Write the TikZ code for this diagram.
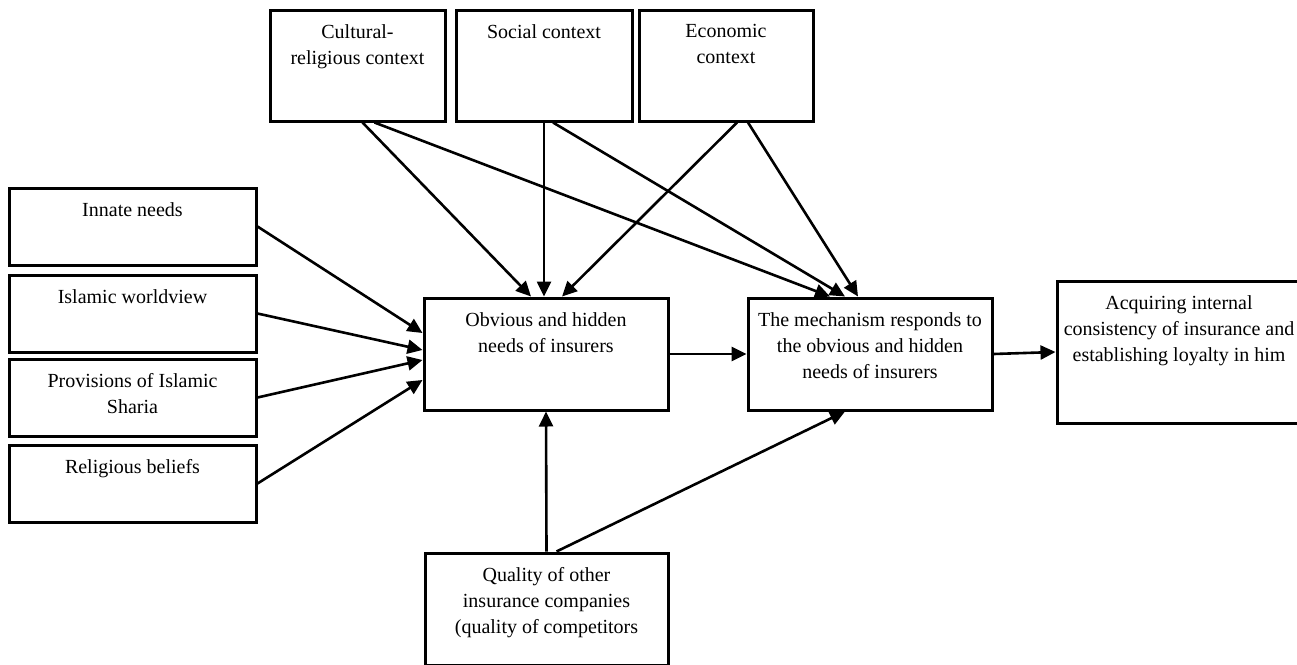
\documentclass[tikz,border=0pt]{standalone}
\usepackage{fontspec}
\setmainfont{Liberation Serif}
\usetikzlibrary{arrows.meta}

\begin{document}
\begin{tikzpicture}[x=1pt, y=-1pt,
  box/.style={draw, line width=3pt, inner sep=0pt},
  lbl/.style={anchor=north, align=center, inner sep=3pt, yshift=-13pt,
    font=\fontsize{20}{26}\selectfont},
  arr/.style={line width=2.6pt, -{Triangle[length=15pt, width=14pt]}}]
  \useasboundingbox (0,0) rectangle (1297,664);
  % contexts on top
  \node[box, minimum width=175, minimum height=111,
    label={[lbl]north:{Cultural-\\religious context}}] (cultural) at (357.5,65.5) {};
  \node[box, minimum width=176, minimum height=111,
    label={[lbl]north:{Social context}}] (social) at (544,65.5) {};
  \node[box, minimum width=174, minimum height=111,
    label={[lbl]north:{Economic\\context}}] (economic) at (726,65.5) {};
  % needs on the left
  \node[box, minimum width=247, minimum height=77,
    label={[lbl]north:{Innate needs}}] (innate) at (132.5,226.5) {};
  \node[box, minimum width=247, minimum height=77,
    label={[lbl]north:{Islamic worldview}}] (worldview) at (132.5,313.5) {};
  \node[box, minimum width=247, minimum height=77,
    label={[lbl]north:{Provisions of Islamic\\Sharia}}] (sharia) at (132.5,397.5) {};
  \node[box, minimum width=247, minimum height=77,
    label={[lbl]north:{Religious beliefs}}] (beliefs) at (132.5,483.5) {};
  % middle row
  \node[box, minimum width=244, minimum height=112,
    label={[lbl]north:{Obvious and hidden\\needs of insurers}}] (needs) at (546,354) {};
  \node[box, minimum width=244, minimum height=112,
    label={[lbl]north:{The mechanism responds to\\the obvious and hidden\\needs of insurers}}] (mechanism) at (870,354) {};
  \node[box, minimum width=244, minimum height=142,
    label={[lbl]north:{Acquiring internal\\consistency of insurance and\\establishing loyalty in him}}] (loyalty) at (1179,352) {};
  % competitors
  \node[box, minimum width=243, minimum height=112,
    label={[lbl]north:{Quality of other\\insurance companies\\(quality of competitors}}] (quality) at (546.5,609) {};

  % arrows from the contexts
  \draw[arr] ([xshift=5pt]cultural.south) -- ([xshift=-15pt]needs.north);
  \draw[arr] (social.south) -- ([xshift=-2pt]needs.north);
  \draw[arr] ([xshift=11pt]economic.south) -- ([xshift=16pt]needs.north);
  \draw[arr] ([xshift=17pt]cultural.south) -- ([xshift=-40pt]mechanism.north);
  \draw[arr] ([xshift=9pt]social.south) -- ([xshift=-25pt]mechanism.north);
  \draw[arr] ([xshift=22pt]economic.south) -- ([xshift=-12pt]mechanism.north);
  % arrows from the left
  \draw[arr] (innate.east) -- ([yshift=21pt]needs.west);
  \draw[arr] (worldview.east) -- ([yshift=4pt]needs.west);
  \draw[arr] (sharia.east) -- ([yshift=-6pt]needs.west);
  \draw[arr] (beliefs.east) -- ([yshift=-26pt]needs.west);
  % arrows from below
  \draw[arr] (quality.north) -- (needs.south);
  \draw[arr] ([xshift=10pt]quality.north) -- ([xshift=-25pt]mechanism.south);
  % main chain
  \draw[arr] (needs.east) -- (mechanism.west);
  \draw[arr] (mechanism.east) -- (loyalty.west);
\end{tikzpicture}
\end{document}
